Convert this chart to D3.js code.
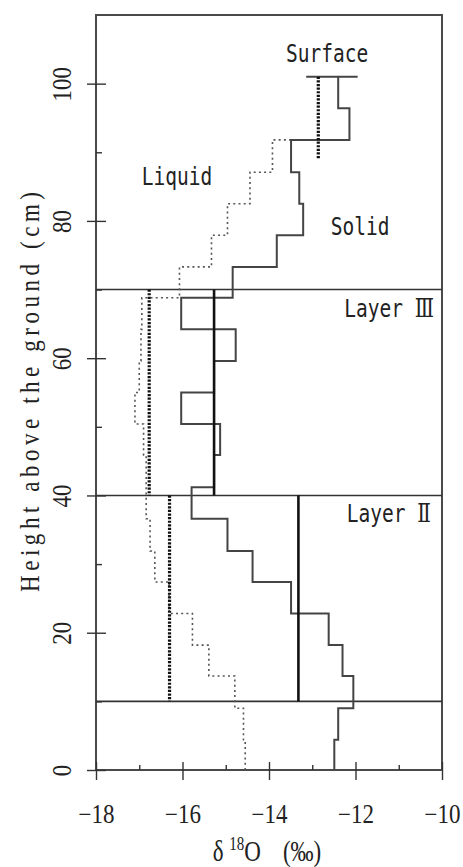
<!DOCTYPE html>
<html>
<head>
<meta charset="utf-8">
<script src="https://cdn.jsdelivr.net/npm/d3@7"></script>
<style>
  html, body { margin: 0; padding: 0; background: #fff; }
  svg { display: block; }
</style>
</head>
<body>
<svg id="chart" width="463" height="867"></svg>
<script>
// ---- data ----
// step boundaries (height above ground, cm), top to bottom
const boundaries = [101, 96.4, 91.8, 87.1, 82.5, 77.9, 73.3, 68.8, 64.2, 59.6, 55.0, 50.4, 45.9, 41.2, 36.6, 31.9, 27.4, 22.8, 18.2, 13.7, 9.0, 4.4, 0];
// solid phase δ18O per interval
const solidValues = [-12.40, -12.14, -13.49, -13.30, -13.21, -13.82, -14.84, -16.03, -14.77, -15.27, -16.03, -15.13, -15.27, -15.79, -14.96, -14.38, -13.49, -12.62, -12.30, -12.05, -12.40, -12.49];
// liquid phase δ18O per interval (no data in the two top intervals)
const liquidValues = [null, null, -13.92, -14.44, -14.96, -15.33, -16.07, -16.94, -16.96, -17.00, -17.10, -16.90, -16.84, -16.84, -16.75, -16.64, -16.31, -15.77, -15.39, -14.79, -14.59, -14.55];
const liquidStart = -13.49; // liquid curve joins the solid curve at its top
// layer means
const layerNames = ["Surface", "Layer III", "Layer II"];
const layerTop = [101, 70, 40];
const layerBottom = [89, 40, 10];
const layerSolidMean = [null, -15.27, -13.32];
const layerLiquidMean = [-12.86, -16.77, -16.30];
const surfaceBar = [-13.14, -11.95];      // horizontal surface marker
const surfaceHeight = 101;
const layerLines = [70, 40, 10];
// ticks
const xMajorTicks = [-18, -16, -14, -12, -10];
const xMinorTicks = [-17, -15, -13, -11];
const yMajorTicks = [0, 20, 40, 60, 80, 100];
const yMinorTicks = [10, 30, 50, 70, 90];

// ---- layout ----
const L = 96, R = 442, T = 15, B = 770;
const svg = d3.select("#chart");
const x = d3.scaleLinear().domain([-18, -10]).range([L, R]);
const y = d3.scaleLinear().domain([0, 110]).range([B, T]);

const ink = "#333";
const serif = "'Liberation Serif', 'Times New Roman', serif";

// frame
svg.append("rect").attr("x", L).attr("y", T).attr("width", R - L).attr("height", B - T)
  .attr("fill", "none").attr("stroke", "#4a4a4a").attr("stroke-width", 2);

// layer separation lines
svg.selectAll(".layerline").data(layerLines).join("line")
  .attr("x1", L).attr("x2", R).attr("y1", d => y(d)).attr("y2", d => y(d))
  .attr("stroke", ink).attr("stroke-width", 1.6);

// ---- axes ----
const gx = svg.append("g").attr("transform", `translate(0,${B})`)
  .call(d3.axisBottom(x).tickValues(xMajorTicks).tickSize(9).tickFormat(d3.format("d")));
gx.select(".domain").remove();
gx.selectAll(".tick line").attr("y1", -8).attr("y2", 10).attr("stroke", ink).attr("stroke-width", 1.4);
gx.selectAll(".tick text")
  .attr("y", 0).attr("dy", 0)
  .attr("transform", "translate(0,52.7) scale(1,1.15)")
  .attr("font-family", serif)
  .attr("font-size", 23).attr("fill", "#222");
const gxm = svg.append("g").attr("transform", `translate(0,${B})`)
  .call(d3.axisBottom(x).tickValues(xMinorTicks).tickSize(-5).tickFormat(""));
gxm.select(".domain").remove();
gxm.selectAll(".tick line").attr("stroke", ink).attr("stroke-width", 1.4);

const gy = svg.append("g").attr("transform", `translate(${L},0)`)
  .call(d3.axisLeft(y).tickValues(yMajorTicks).tickSize(9).tickFormat(d3.format("d")));
gy.select(".domain").remove();
gy.selectAll(".tick line").attr("x1", -9).attr("x2", 10).attr("stroke", ink).attr("stroke-width", 1.4);
gy.selectAll(".tick text")
  .attr("x", 0).attr("dy", 0).attr("y", 0)
  .attr("text-anchor", "middle")
  .attr("transform", "translate(-25.3,0) rotate(-90) scale(1,1.2)")
  .attr("font-family", serif)
  .attr("font-size", 23).attr("fill", "#222");
const gym = svg.append("g").attr("transform", `translate(${L},0)`)
  .call(d3.axisLeft(y).tickValues(yMinorTicks).tickSize(-6).tickFormat(""));
gym.select(".domain").remove();
gym.selectAll(".tick line").attr("stroke", ink).attr("stroke-width", 1.4);

// axis titles
svg.append("text")
  .attr("transform", "translate(39,392) rotate(-90) scale(1,1.2)")
  .attr("text-anchor", "middle")
  .attr("font-family", serif)
  .attr("font-size", 23).attr("fill", "#222")
  .attr("textLength", 400).attr("lengthAdjust", "spacing")
  .text("Height above the ground (cm)");

const xt = svg.append("text")
  .attr("transform", `translate(${x(-14) - 2},861) scale(1,1.25)`)
  .attr("text-anchor", "middle")
  .attr("font-family", serif)
  .attr("font-size", 23).attr("fill", "#222");
xt.append("tspan").text("δ ");
xt.append("tspan").attr("font-size", 15).attr("dy", -9).text("18");
xt.append("tspan").attr("dy", 9).text("O");
xt.append("tspan").attr("dx", 22).text("(‰)");

// ---- step profiles ----
function stepPoints(values, startX) {
  const pts = [];
  values.forEach((v, i) => {
    if (v === null) return;
    if (pts.length === 0 && startX !== undefined) pts.push([startX, boundaries[i]]);
    pts.push([v, boundaries[i]]);
    pts.push([v, boundaries[i + 1]]);
  });
  return pts;
}
const line = d3.line().x(d => x(d[0])).y(d => y(d[1]));

// surface marker bar
svg.append("line")
  .attr("x1", x(surfaceBar[0])).attr("x2", x(surfaceBar[1]))
  .attr("y1", y(surfaceHeight)).attr("y2", y(surfaceHeight))
  .attr("stroke", "#444").attr("stroke-width", 2);

svg.append("path").attr("d", line(stepPoints(liquidValues, liquidStart)))
  .attr("fill", "none").attr("stroke", "#555").attr("stroke-width", 1.6)
  .attr("stroke-dasharray", "2,3.2");

svg.append("path").attr("d", line(stepPoints(solidValues)))
  .attr("fill", "none").attr("stroke", "#444").attr("stroke-width", 2);

// layer means
layerNames.forEach((n, i) => {
  if (layerSolidMean[i] !== null) {
    svg.append("line")
      .attr("x1", x(layerSolidMean[i])).attr("x2", x(layerSolidMean[i]))
      .attr("y1", y(layerTop[i])).attr("y2", y(layerBottom[i]))
      .attr("stroke", "#111").attr("stroke-width", 2.6);
  }
  if (layerLiquidMean[i] !== null) {
    svg.append("line")
      .attr("x1", x(layerLiquidMean[i])).attr("x2", x(layerLiquidMean[i]))
      .attr("y1", y(layerTop[i])).attr("y2", y(layerBottom[i]))
      .attr("stroke", "#111").attr("stroke-width", 3.2)
      .attr("stroke-dasharray", "2.2,1.4");
  }
});

// ---- annotations ----
const mono = "'DejaVu Sans Mono', 'Liberation Mono', monospace";
function label(px, py, parts) {
  const t = svg.append("text")
    .attr("transform", `translate(${px},${py}) scale(1,1.3)`)
    .attr("font-family", mono).attr("font-size", 19.5).attr("fill", "#222");
  parts.forEach(p => {
    const s = t.append("tspan").text(p.t);
    if (p.num) s.attr("font-family", "'DejaVu Serif', 'Noto Sans CJK JP', serif").attr("font-size", 20);
  });
}
label(286, 62, [{t: "Surface"}]);
label(141.7, 185, [{t: "Liquid"}]);
label(330.7, 235, [{t: "Solid"}]);
label(344.3, 317.3, [{t: "Layer "}, {t: "Ⅲ", num: true}]);
label(346.7, 521.7, [{t: "Layer "}, {t: "Ⅱ", num: true}]);
</script>
</body>
</html>
